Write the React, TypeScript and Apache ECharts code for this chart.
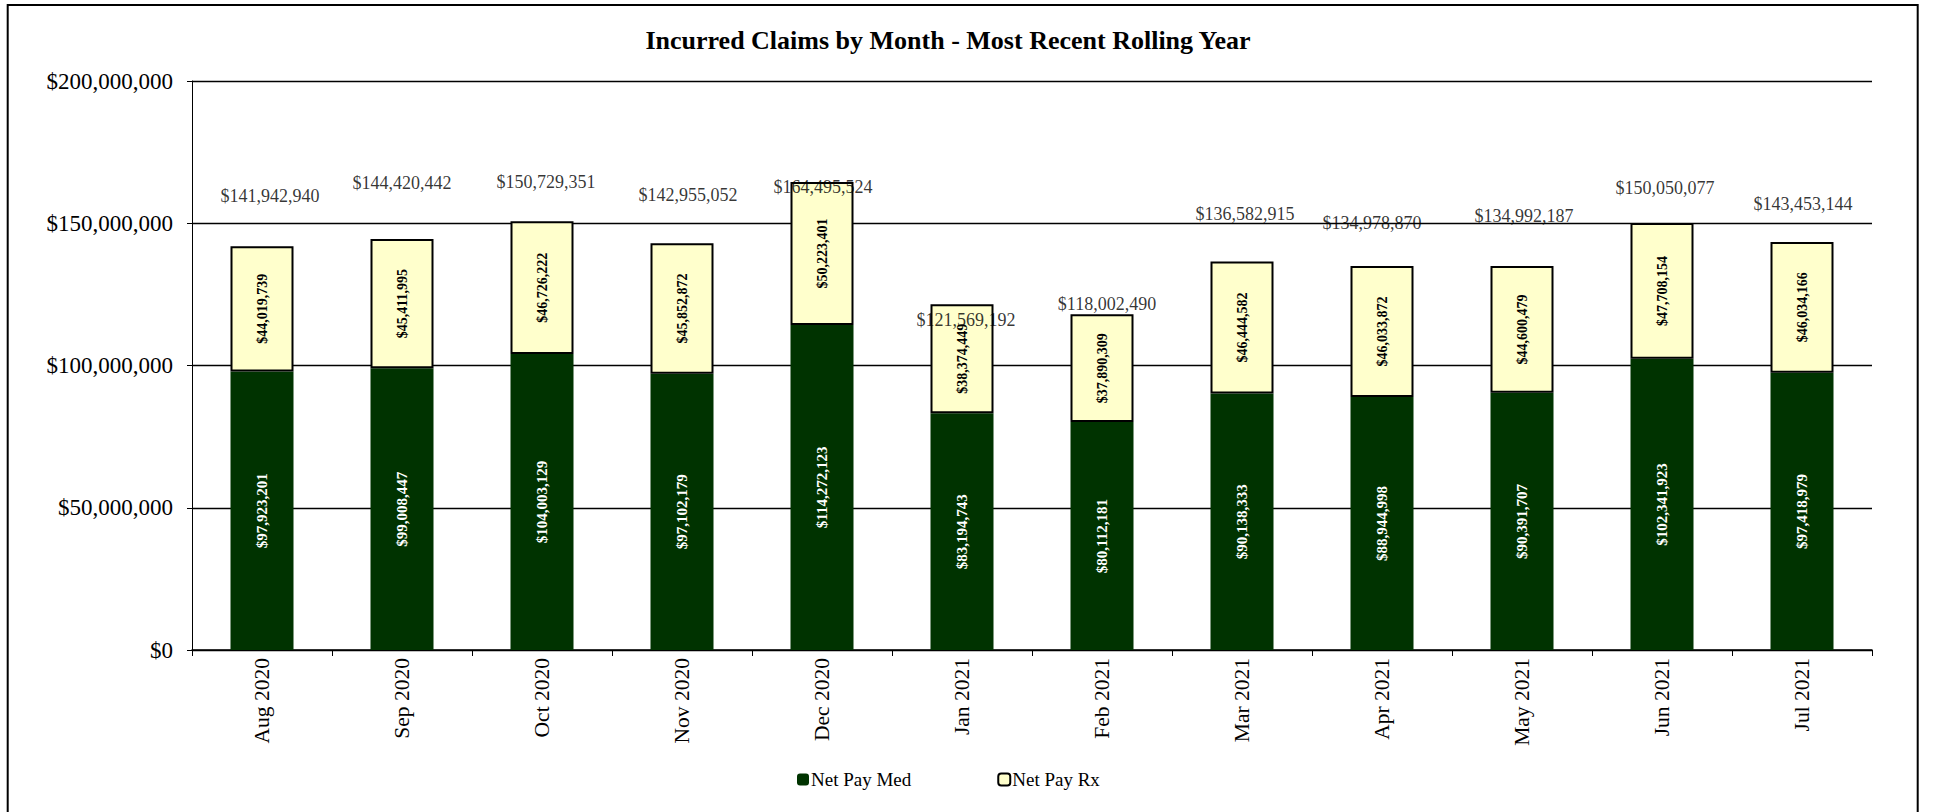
import React, { useEffect, useRef } from "react";
import * as echarts from "echarts";

const months = ["Aug 2020", "Sep 2020", "Oct 2020", "Nov 2020", "Dec 2020", "Jan 2021", "Feb 2021", "Mar 2021", "Apr 2021", "May 2021", "Jun 2021", "Jul 2021"];
const netPayMed = [97923201, 99008447, 104003129, 97102179, 114272123, 83194743, 80112181, 90138333, 88944998, 90391707, 102341923, 97418979];
const netPayRx = [44019739, 45411995, 46726222, 45852872, 50223401, 38374449, 37890309, 46444582, 46033872, 44600479, 47708154, 46034166];
const totals = [141942940, 144420442, 150729351, 142955052, 164495524, 121569192, 118002490, 136582915, 134978870, 134992187, 150050077, 143453144];
const yTicks = { min: 0, max: 200000000, interval: 50000000 };

// label placement style (pixel shifts of the total labels, as placed in the source)
const totalLabelShiftX = [8, 0, 4, 6, 1, 4, 5, 3, -10, 2, 3, 1];
const totalLabelShiftY = [-50, -56, -39, -48, 5, 16, -10, -47, -43, -50, -35, -38];

const FONT = "'Liberation Serif', 'Times New Roman', serif";
const money = (v: number) => "$" + Math.round(v).toLocaleString("en-US");

export default function App() {
  const ref = useRef<HTMLDivElement>(null);
  useEffect(() => {
    if (!ref.current) return;
    const chart = echarts.init(ref.current, undefined, { renderer: "svg" });
    chart.setOption({
      animation: false,
      backgroundColor: "#ffffff",
      textStyle: { fontFamily: FONT },
      graphic: [
        {
          type: "rect",
          shape: { x: 7.7, y: 5, width: 1910, height: 830 },
          style: { fill: "none", stroke: "#000", lineWidth: 2 },
          silent: true,
        },
        {
          type: "text",
          x: 948,
          y: 40,
          silent: true,
          style: {
            text: "Incurred Claims by Month - Most Recent Rolling Year",
            fill: "#000",
            font: "bold 26px " + FONT,
            textAlign: "center",
            textVerticalAlign: "middle",
          },
        },
      ],
      legend: {
        data: ["Net Pay Med", "Net Pay Rx"],
        left: 792,
        top: 765,
        itemWidth: 12,
        itemHeight: 12,
        itemGap: 86,
        textStyle: { fontFamily: FONT, fontSize: 19, color: "#000", padding: [0, 0, 0, -3] },
      },
      grid: { left: 192, right: 63, top: 81, bottom: 162, containLabel: false },
      xAxis: {
        type: "category",
        data: months,
        axisLine: { lineStyle: { color: "#000", width: 1.5 } },
        axisTick: { show: true, length: 6, lineStyle: { color: "#000" } },
        axisLabel: { rotate: 90, margin: 8, fontFamily: FONT, fontSize: 21.5, color: "#000" },
      },
      yAxis: {
        type: "value",
        min: yTicks.min,
        max: yTicks.max,
        interval: yTicks.interval,
        axisLine: { show: true, lineStyle: { color: "#000", width: 1 } },
        axisTick: { show: true, length: 5, lineStyle: { color: "#000" } },
        splitLine: { lineStyle: { color: "#000", width: 1.3 } },
        axisLabel: { margin: 19, fontFamily: FONT, fontSize: 23, color: "#000", formatter: (v: number) => money(v) },
      },
      series: [
        {
          name: "Net Pay Med",
          type: "bar",
          stack: "total",
          barWidth: "45%",
          data: netPayMed,
          itemStyle: { color: "#003300" },
          label: {
            show: true,
            position: "inside",
            rotate: 90,
            fontFamily: FONT,
            fontSize: 15,
            fontWeight: "bold",
            color: "#ffffff",
            formatter: (p: any) => money(p.value),
          },
        },
        {
          name: "Net Pay Rx",
          type: "bar",
          stack: "total",
          barWidth: "45%",
          data: netPayRx,
          itemStyle: { color: "#FFFFCC", borderColor: "#000", borderWidth: 2 },
          label: {
            show: true,
            position: "inside",
            rotate: 90,
            fontFamily: FONT,
            fontSize: 14,
            fontWeight: "bold",
            color: "#000",
            formatter: (p: any) => money(p.value),
          },
        },
        {
          name: "Total",
          type: "scatter",
          symbolSize: 1,
          z: 10,
          silent: true,
          itemStyle: { color: "rgba(0,0,0,0)" },
          data: totals.map((v, i) => ({
            value: v,
            label: { offset: [totalLabelShiftX[i], totalLabelShiftY[i]] },
          })),
          label: {
            show: true,
            position: "inside",
            fontFamily: FONT,
            fontSize: 18,
            color: "#000",
            formatter: (p: any) => money(p.value),
          },
        },
      ],
    });
    return () => chart.dispose();
  }, []);
  return <div ref={ref} style={{ position: "absolute", left: 0, top: 0, width: 1935, height: 812 }} />;
}
